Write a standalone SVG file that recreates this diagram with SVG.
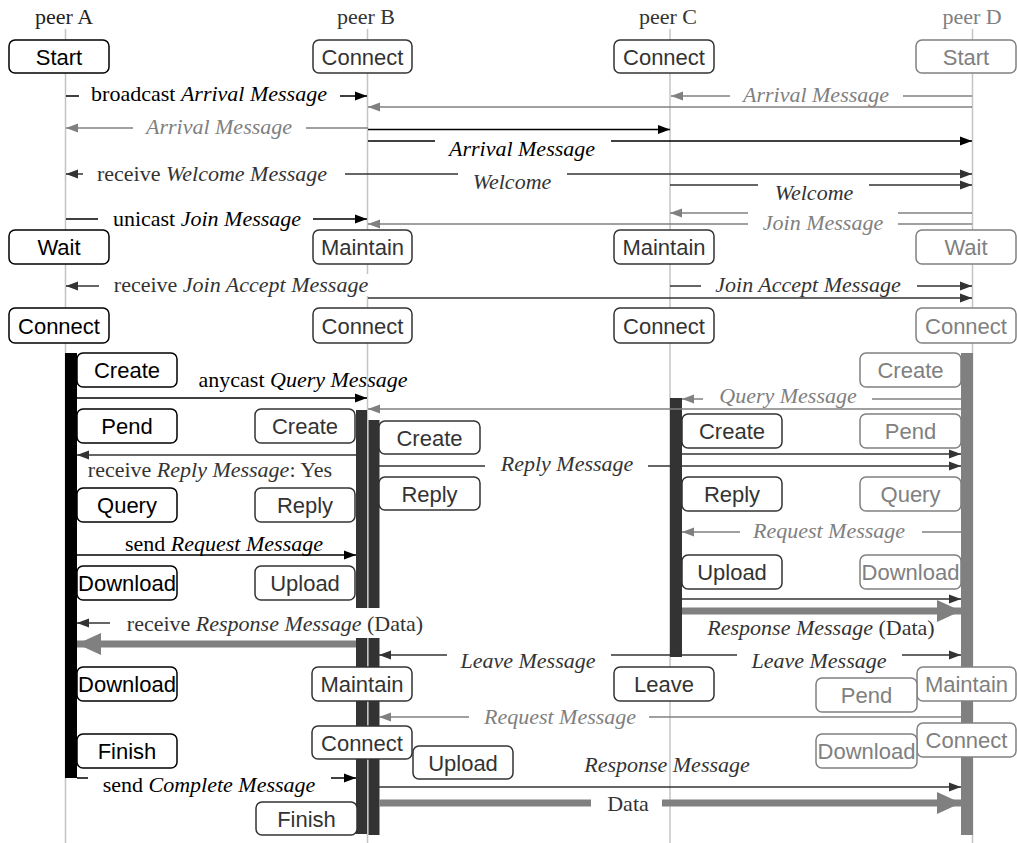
<svg xmlns="http://www.w3.org/2000/svg" width="1017" height="843" viewBox="0 0 1017 843">
<style>
  .life{stroke:#c4c4c4;stroke-width:1.5}
  .bx{fill:#fff;stroke-width:1.5}
  .ka{stroke:#000}.kb{stroke:#333}.kd{stroke:#808080}
  .st{font-family:"Liberation Sans",Arial,sans-serif;font-size:22px;text-anchor:middle}
  .lb{font-family:"Liberation Serif","Times New Roman",serif;font-size:22px;text-anchor:middle}
  .hd{font-family:"Liberation Serif","Times New Roman",serif;font-size:22px;text-anchor:middle}
  .ta{fill:#000}.tb{fill:#333}.td{fill:#808080}
  .i{font-style:italic}
  .ca{stroke:#000;stroke-width:1.6;fill:none}
  .cb{stroke:#333;stroke-width:1.6;fill:none}
  .cd{stroke:#808080;stroke-width:1.6;fill:none}
  .thick{stroke:#808080;stroke-width:7;fill:none}
  .bg{fill:#fff}
</style>
<defs>
  <marker id="hA" markerUnits="userSpaceOnUse" markerWidth="12" markerHeight="10" refX="12" refY="5" orient="auto-start-reverse"><path d="M0,0.5 L12,5 L0,9.5z" fill="#000"/></marker>
  <marker id="hB" markerUnits="userSpaceOnUse" markerWidth="12" markerHeight="10" refX="12" refY="5" orient="auto-start-reverse"><path d="M0,0.5 L12,5 L0,9.5z" fill="#333"/></marker>
  <marker id="hD" markerUnits="userSpaceOnUse" markerWidth="12" markerHeight="10" refX="12" refY="5" orient="auto-start-reverse"><path d="M0,0.5 L12,5 L0,9.5z" fill="#808080"/></marker>
  <marker id="hBig" markerUnits="userSpaceOnUse" markerWidth="24" markerHeight="22" refX="24" refY="11" orient="auto-start-reverse"><path d="M0,0 L24,11 L0,22z" fill="#808080"/></marker>
</defs>
<rect width="1017" height="843" fill="#fff"/>

<!-- peer headers and lifelines -->
<g id="lifelines">
  <text class="hd" x="64" y="24" fill="#222">peer A</text>
  <text class="hd" x="366" y="24" fill="#333">peer B</text>
  <text class="hd" x="668" y="24" fill="#333">peer C</text>
  <text class="hd" x="972" y="24" fill="#808080">peer D</text>
  <line class="life" x1="65.5" y1="29" x2="65.5" y2="843"/>
  <line class="life" x1="367.5" y1="29" x2="367.5" y2="843"/>
  <line class="life" x1="670" y1="29" x2="670" y2="843"/>
  <line class="life" x1="972.5" y1="29" x2="972.5" y2="843"/>
</g>

<!-- activation bars -->
<g id="activations">
  <rect x="65" y="353" width="12" height="425" fill="#000"/>
  <rect x="356" y="410" width="11" height="424" fill="#333"/>
  <rect x="368.5" y="420" width="11" height="415" fill="#333"/>
  <rect x="670" y="398" width="12" height="259" fill="#333"/>
  <rect x="961" y="353" width="12" height="482" fill="#808080"/>
</g>

<g id="connectors">
  <!-- join phase -->
  <line class="ca" x1="66" y1="96" x2="367" y2="96" marker-end="url(#hA)"/>
  <line class="cd" x1="972" y1="96" x2="671" y2="96" marker-end="url(#hD)"/>
  <line class="cd" x1="972" y1="107" x2="368" y2="107" marker-end="url(#hD)"/>
  <line class="cd" x1="368" y1="128" x2="66" y2="128" marker-end="url(#hD)"/>
  <line class="ca" x1="368" y1="129.5" x2="670" y2="129.5" marker-end="url(#hA)"/>
  <line class="ca" x1="368" y1="141" x2="972" y2="141" marker-end="url(#hA)"/>
  <line class="cb" x1="66" y1="174" x2="972" y2="174" marker-start="url(#hB)" marker-end="url(#hB)"/>
  <line class="cb" x1="670" y1="185" x2="972" y2="185" marker-end="url(#hB)"/>
  <line class="ca" x1="66" y1="219" x2="367" y2="219" marker-end="url(#hA)"/>
  <line class="cd" x1="972" y1="213" x2="670" y2="213" marker-end="url(#hD)"/>
  <line class="cd" x1="972" y1="224" x2="368" y2="224" marker-end="url(#hD)"/>
  <line class="cb" x1="368" y1="286" x2="66" y2="286" marker-end="url(#hB)"/>
  <line class="cb" x1="670" y1="286" x2="972" y2="286" marker-end="url(#hB)"/>
  <line class="cb" x1="368" y1="298" x2="972" y2="298" marker-end="url(#hB)"/>
  <!-- query / transfer phase -->
  <line class="ca" x1="77" y1="398" x2="367" y2="398" marker-end="url(#hA)"/>
  <line class="cd" x1="961" y1="399" x2="682" y2="399" marker-end="url(#hD)"/>
  <line class="cd" x1="961" y1="409" x2="368" y2="409" marker-end="url(#hD)"/>
  <line class="cb" x1="356" y1="455" x2="77" y2="455" marker-end="url(#hB)"/>
  <line class="cb" x1="682" y1="454" x2="961" y2="454" marker-end="url(#hB)"/>
  <line class="cb" x1="379" y1="466" x2="961" y2="466" marker-end="url(#hB)"/>
  <line class="cd" x1="961" y1="532" x2="682" y2="532" marker-end="url(#hD)"/>
  <line class="ca" x1="77" y1="555" x2="356" y2="555" marker-end="url(#hA)"/>
  <line class="cb" x1="682" y1="599" x2="961" y2="599" marker-end="url(#hB)"/>
  <line class="thick" x1="682" y1="611" x2="961" y2="611" marker-end="url(#hBig)"/>
  <line class="cb" x1="356" y1="623" x2="77" y2="623" marker-end="url(#hB)"/>
  <line class="thick" x1="356" y1="644" x2="77" y2="644" marker-end="url(#hBig)"/>
  <line class="cb" x1="379" y1="655" x2="961" y2="655" marker-start="url(#hB)" marker-end="url(#hB)"/>
  <line class="cd" x1="961" y1="717" x2="379" y2="717" marker-end="url(#hD)"/>
  <line class="ca" x1="77" y1="778" x2="356" y2="778" marker-end="url(#hA)"/>
  <line class="cb" x1="379" y1="787" x2="961" y2="787" marker-end="url(#hB)"/>
  <line class="thick" x1="379" y1="803" x2="961" y2="803" marker-end="url(#hBig)"/>
</g>

<!-- message labels -->
<g id="labels">
  <rect class="bg" x="79" y="84" width="261" height="20"/>
  <text class="lb ta" x="209" y="101">broadcast <tspan class="i">Arrival Message</tspan></text>
  <rect class="bg" x="730" y="84" width="173" height="21"/>
  <text class="lb td i" x="816" y="102">Arrival Message</text>
  <rect class="bg" x="133" y="116" width="173" height="21"/>
  <text class="lb td i" x="219" y="134">Arrival Message</text>
  <rect class="bg" x="435" y="134" width="176" height="28"/>
  <text class="lb ta i" x="522" y="156">Arrival Message</text>
  <rect class="bg" x="83" y="162" width="262" height="25"/>
  <text class="lb tb" x="212" y="181">receive <tspan class="i">Welcome Message</tspan></text>
  <rect class="bg" x="458" y="167" width="109" height="28"/>
  <text class="lb tb i" x="512" y="189">Welcome</text>
  <rect class="bg" x="758" y="178" width="111" height="25"/>
  <text class="lb tb i" x="814" y="200">Welcome</text>
  <rect class="bg" x="98" y="207" width="215" height="22"/>
  <text class="lb ta" x="207" y="226">unicast <tspan class="i">Join Message</tspan></text>
  <rect class="bg" x="748" y="208" width="150" height="27"/>
  <text class="lb td i" x="823" y="230">Join Message</text>
  <rect class="bg" x="99" y="274" width="273" height="22"/>
  <text class="lb tb" x="241" y="292">receive <tspan class="i">Join Accept Message</tspan></text>
  <rect class="bg" x="701" y="274" width="216" height="21"/>
  <text class="lb tb i" x="808" y="292">Join Accept Message</text>
  <text class="lb ta" x="303" y="387">anycast <tspan class="i">Query Message</tspan></text>
  <rect class="bg" x="703" y="386" width="169" height="19"/>
  <text class="lb td i" x="788" y="403">Query Message</text>
  <text class="lb tb" x="210" y="477">receive <tspan class="i">Reply Message</tspan>: Yes</text>
  <rect class="bg" x="485" y="457" width="163" height="22"/>
  <text class="lb tb i" x="567" y="471">Reply Message</text>
  <rect class="bg" x="740" y="520" width="182" height="25"/>
  <text class="lb td i" x="829" y="538">Request Message</text>
  <text class="lb ta" x="224" y="551">send <tspan class="i">Request Message</tspan></text>
  <text class="lb tb" x="821" y="635"><tspan class="i">Response Message</tspan> (Data)</text>
  <rect class="bg" x="110" y="608" width="330" height="30"/>
  <text class="lb tb" x="275" y="631">receive <tspan class="i">Response Message</tspan> (Data)</text>
  <rect class="bg" x="447" y="644" width="164" height="28"/>
  <text class="lb tb i" x="528" y="668">Leave Message</text>
  <rect class="bg" x="737" y="645" width="165" height="25"/>
  <text class="lb tb i" x="819" y="668">Leave Message</text>
  <rect class="bg" x="469" y="709" width="180" height="23"/>
  <text class="lb td i" x="560" y="724">Request Message</text>
  <rect class="bg" x="88" y="771" width="243" height="29"/>
  <text class="lb ta" x="209" y="792">send <tspan class="i">Complete Message</tspan></text>
  <text class="lb tb i" x="667" y="772">Response Message</text>
  <rect class="bg" x="591" y="792" width="71" height="30"/>
  <text class="lb tb" x="628" y="811">Data</text>
</g>

<!-- peer A states -->
<g id="a-start"><rect class="bx ka" x="9" y="40" width="100" height="33" rx="6"/><text class="st ta" x="59" y="65">Start</text></g>
<g id="a-wait"><rect class="bx ka" x="9" y="230" width="100" height="34" rx="6"/><text class="st ta" x="59" y="255">Wait</text></g>
<g id="a-connect"><rect class="bx ka" x="9" y="308" width="100" height="35" rx="6"/><text class="st ta" x="59" y="334">Connect</text></g>
<g id="a-create"><rect class="bx ka" x="77" y="353" width="100" height="34" rx="6"/><text class="st ta" x="127" y="378">Create</text></g>
<g id="a-pend"><rect class="bx ka" x="77" y="409" width="100" height="34" rx="6"/><text class="st ta" x="127" y="434">Pend</text></g>
<g id="a-query"><rect class="bx ka" x="77" y="488" width="100" height="34" rx="6"/><text class="st ta" x="127" y="513">Query</text></g>
<g id="a-download1"><rect class="bx ka" x="77" y="566" width="100" height="34" rx="6"/><text class="st ta" x="127" y="591">Download</text></g>
<g id="a-download2"><rect class="bx ka" x="77" y="667" width="100" height="34" rx="6"/><text class="st ta" x="127" y="692">Download</text></g>
<g id="a-finish"><rect class="bx ka" x="77" y="734" width="100" height="34" rx="6"/><text class="st ta" x="127" y="759">Finish</text></g>

<!-- peer B states -->
<g id="b-connect1"><rect class="bx kb" x="313" y="40" width="99" height="33" rx="6"/><text class="st tb" x="362.5" y="65">Connect</text></g>
<g id="b-maintain1"><rect class="bx kb" x="313" y="230" width="99" height="34" rx="6"/><text class="st tb" x="362.5" y="255">Maintain</text></g>
<g id="b-connect2"><rect class="bx kb" x="313" y="308" width="99" height="35" rx="6"/><text class="st tb" x="362.5" y="334">Connect</text></g>
<g id="b-create-out"><rect class="bx kb" x="255" y="409" width="100" height="34" rx="6"/><text class="st tb" x="305" y="434">Create</text></g>
<g id="b-reply-out"><rect class="bx kb" x="255" y="488" width="100" height="34" rx="6"/><text class="st tb" x="305" y="513">Reply</text></g>
<g id="b-upload-out"><rect class="bx kb" x="255" y="566" width="100" height="34" rx="6"/><text class="st tb" x="305" y="591">Upload</text></g>
<g id="b-create-in"><rect class="bx kb" x="379" y="421" width="101" height="33" rx="6"/><text class="st tb" x="429.5" y="446">Create</text></g>
<g id="b-reply-in"><rect class="bx kb" x="379" y="477" width="101" height="33" rx="6"/><text class="st tb" x="429.5" y="502">Reply</text></g>
<g id="b-maintain2"><rect class="bx kb" x="312" y="667" width="100" height="34" rx="6"/><text class="st tb" x="362" y="692">Maintain</text></g>
<g id="b-connect3"><rect class="bx kb" x="312" y="726" width="100" height="33" rx="6"/><text class="st tb" x="362" y="751">Connect</text></g>
<g id="b-upload-in"><rect class="bx kb" x="413" y="746" width="100" height="33" rx="6"/><text class="st tb" x="463" y="771">Upload</text></g>
<g id="b-finish"><rect class="bx kb" x="256" y="802" width="101" height="33" rx="6"/><text class="st tb" x="306.5" y="827">Finish</text></g>

<!-- peer C states -->
<g id="c-connect1"><rect class="bx kb" x="614" y="40" width="100" height="33" rx="6"/><text class="st tb" x="664" y="65">Connect</text></g>
<g id="c-maintain"><rect class="bx kb" x="614" y="230" width="100" height="34" rx="6"/><text class="st tb" x="664" y="255">Maintain</text></g>
<g id="c-connect2"><rect class="bx kb" x="614" y="308" width="100" height="35" rx="6"/><text class="st tb" x="664" y="334">Connect</text></g>
<g id="c-create"><rect class="bx kb" x="682" y="414" width="100" height="34" rx="6"/><text class="st tb" x="732" y="439">Create</text></g>
<g id="c-reply"><rect class="bx kb" x="682" y="477" width="100" height="34" rx="6"/><text class="st tb" x="732" y="502">Reply</text></g>
<g id="c-upload"><rect class="bx kb" x="682" y="555" width="100" height="34" rx="6"/><text class="st tb" x="732" y="580">Upload</text></g>
<g id="c-leave"><rect class="bx kb" x="614" y="667" width="100" height="34" rx="6"/><text class="st tb" x="664" y="692">Leave</text></g>

<!-- peer D states -->
<g id="d-start"><rect class="bx kd" x="916" y="40" width="100" height="33" rx="6"/><text class="st td" x="966" y="65">Start</text></g>
<g id="d-wait"><rect class="bx kd" x="916" y="230" width="100" height="34" rx="6"/><text class="st td" x="966" y="255">Wait</text></g>
<g id="d-connect1"><rect class="bx kd" x="916" y="308" width="100" height="35" rx="6"/><text class="st td" x="966" y="334">Connect</text></g>
<g id="d-create"><rect class="bx kd" x="860" y="353" width="101" height="34" rx="6"/><text class="st td" x="910.5" y="378">Create</text></g>
<g id="d-pend1"><rect class="bx kd" x="860" y="414" width="101" height="34" rx="6"/><text class="st td" x="910.5" y="439">Pend</text></g>
<g id="d-query"><rect class="bx kd" x="860" y="477" width="101" height="34" rx="6"/><text class="st td" x="910.5" y="502">Query</text></g>
<g id="d-download1"><rect class="bx kd" x="860" y="555" width="101" height="34" rx="6"/><text class="st td" x="910.5" y="580">Download</text></g>
<g id="d-maintain"><rect class="bx kd" x="917" y="667" width="99" height="34" rx="6"/><text class="st td" x="966.5" y="692">Maintain</text></g>
<g id="d-pend2"><rect class="bx kd" x="816" y="678" width="101" height="34" rx="6"/><text class="st td" x="866.5" y="703">Pend</text></g>
<g id="d-connect2"><rect class="bx kd" x="917" y="723" width="99" height="34" rx="6"/><text class="st td" x="966.5" y="748">Connect</text></g>
<g id="d-download2"><rect class="bx kd" x="816" y="734" width="101" height="34" rx="6"/><text class="st td" x="866.5" y="759">Download</text></g>
</svg>
